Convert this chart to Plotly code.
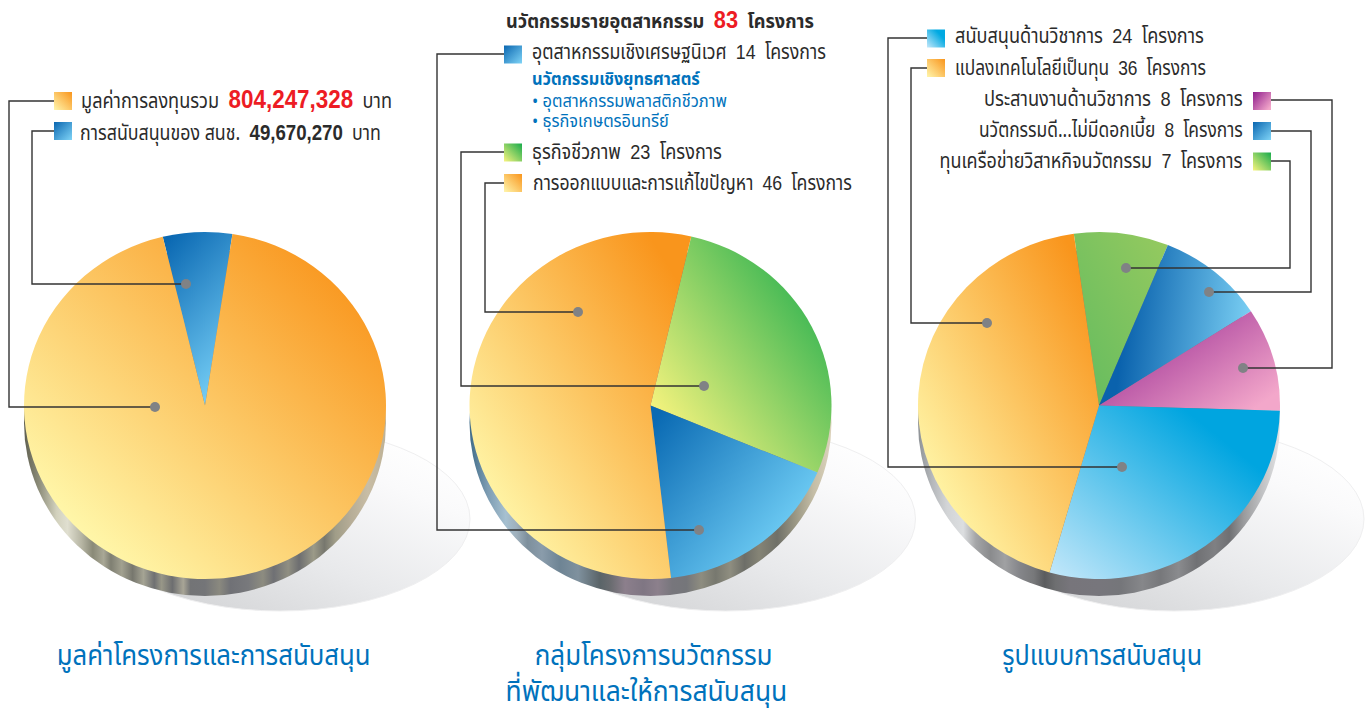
import json
import plotly.graph_objects as go

W, H = 1369, 709
INK = "#2b2b2b"
LINE = "#333333"
BLUE = "#0072bc"
RED = "#ed1c24"
THAI = "Noto Sans Thai, Noto Sans Thai Looped, Loma, Garuda, Noto Sans, Liberation Sans, sans-serif"
NUM = "Liberation Sans, Arial, sans-serif"
SP = "\u00a0"

# ----- data -----
funding_labels = ["การสนับสนุนของ สนช.", "ส่วนที่เหลือของมูลค่าการลงทุน"]
funding_values = [49670270, 754577058]
group_labels = ["ธุรกิจชีวภาพ", "อุตสาหกรรมเชิงเศรษฐนิเวศ", "การออกแบบและการแก้ไขปัญหา"]
group_values = [23, 14, 46]
support_labels = ["ทุนเครือข่ายวิสาหกิจนวัตกรรม", "นวัตกรรมดี...ไม่มีดอกเบี้ย", "ประสานงานด้านวิชาการ",
                  "สนับสนุนด้านวิชาการ", "แปลงเทคโนโลยีเป็นทุน"]
support_values = [7, 8, 8, 24, 36]

# gradient definitions: start colour, end colour, x1, y1, x2, y2
GRADS = {
    "orange": ("#fff6a8", "#f9951c", 0.15, 0.85, 0.9, 0.1),
    "blue":   ("#0a6ab3", "#74d2f8", 0.05, 0.05, 0.9, 0.75),
    "blue1":  ("#0a68b2", "#74cdf5", 0.15, 0.0, 0.6, 1),
    "green":  ("#f8f47e", "#18ab4b", 0.1, 0.85, 0.95, 0.05),
    "cyan":   ("#c5e8fa", "#00a5e0", 0, 1, 0.8, 0.25),
    "purple": ("#8e1c8c", "#f3a7ca", 0, 0, 1, 0.8),
    "blue2":  ("#0a62ad", "#7ed3f6", 0.15, 0.6, 1, 0.7),
    "green2": ("#62bb5f", "#96ca5f", 0, 1, 1, 0),
    "sw_orange": ("#fff6ad", "#f9951c", 0, 1, 1, 0),
    "sw_blue": ("#0a66b0", "#7fd4f7", 0, 0, 1, 1),
    "sw_green": ("#f8f47e", "#18ab4b", 0, 1, 1, 0),
    "sw_cyan": ("#c5e8fa", "#00a9e2", 0, 1, 0.75, 0.3),
}
PIES = [
    dict(cx=205, values=funding_values, labels=funding_labels, rotation=-13.5, grads=["blue1", "orange"]),
    dict(cx=650.5, values=group_values, labels=group_labels, rotation=13, grads=["green", "blue", "orange"]),
    dict(cx=1099, values=support_values, labels=support_labels, rotation=-8,
         grads=["green2", "blue2", "purple", "cyan", "orange"]),
]
RX, RY, CY, DEPTH = 181, 173.5, 405.5, 17

# legends: swatch x0, swatch y centre, gradient, elbow path ending at the dot
LEGENDS = [
    (54, 101, "sw_orange", [(54, 101), (9, 101), (9, 407), (155, 407)]),
    (54, 131, "sw_blue", [(54, 131), (32, 131), (32, 284), (186, 284)]),
    (504, 54.5, "sw_blue", [(504, 54), (437, 54), (437, 530), (699, 530)]),
    (504, 152.5, "sw_green", [(504, 152), (461, 152), (461, 386), (704, 386)]),
    (504, 183, "sw_orange", [(504, 183), (485, 183), (485, 312), (578, 312)]),
    (927, 38.5, "sw_cyan", [(927, 38), (888, 38), (888, 467), (1122, 467)]),
    (927, 68, "sw_orange", [(927, 68), (911, 68), (911, 323), (987, 323)]),
    (1253, 101, "purple", [(1271, 100), (1332, 100), (1332, 368), (1243, 368)]),
    (1253, 131, "sw_blue", [(1271, 131), (1311, 131), (1311, 292), (1209, 292)]),
    (1253, 161.5, "sw_green", [(1271, 161), (1290, 161), (1290, 268), (1126, 268)]),
]


def num(s, size=21, c=INK, b=False):
    return f'<span style="font-family:{NUM};font-size:{size}px;color:{c}">' + (f"<b>{s}</b>" if b else s) + "</span>"


# x of anchor, y, anchor, text, size, colour, width in the picture
TEXTS = [
    (79, 100, "left", f"มูลค่าการลงทุนรวม{SP}{SP}" + num("804,247,328", 26, RED, True) + f"{SP}{SP}บาท", 21, INK, 311),
    (78, 133, "left", f"การสนับสนุนของ{SP}สนช.{SP}{SP}" + num("49,670,270", 22, INK, True) + f"{SP}{SP}บาท", 21, INK, 301),
    (504, 21, "left", "<b>นวัตกรรมรายอุตสาหกรรม</b>" + f"{SP}{SP}" + num("83", 24, RED, True) + f"{SP}{SP}<b>โครงการ</b>", 20, INK, 308),
    (530, 52, "left", f"อุตสาหกรรมเชิงเศรษฐนิเวศ{SP}{SP}" + num("14") + f"{SP}{SP}โครงการ", 21, INK, 294),
    (530, 79, "left", "<b>นวัตกรรมเชิงยุทธศาสตร์</b>", 18, BLUE, 168),
    (530, 101, "left", f"•{SP}อุตสาหกรรมพลาสติกชีวภาพ", 18, BLUE, 195),
    (530, 121, "left", f"•{SP}ธุรกิจเกษตรอินทรีย์", 18, BLUE, 137),
    (530, 152, "left", f"ธุรกิจชีวภาพ{SP}{SP}" + num("23") + f"{SP}{SP}โครงการ", 21, INK, 190),
    (531, 183, "left", f"การออกแบบและการแก้ไขปัญหา{SP}{SP}" + num("46") + f"{SP}{SP}โครงการ", 21, INK, 319),
    (953, 36, "left", f"สนับสนุนด้านวิชาการ{SP}{SP}" + num("24") + f"{SP}{SP}โครงการ", 21, INK, 249),
    (953, 68, "left", f"แปลงเทคโนโลยีเป็นทุน{SP}{SP}" + num("36") + f"{SP}{SP}โครงการ", 21, INK, 251),
    (1245, 99, "right", f"ประสานงานด้านวิชาการ{SP}{SP}" + num("8") + f"{SP}{SP}โครงการ", 21, INK, 259),
    (1245, 130, "right", f"นวัตกรรมดี...ไม่มีดอกเบี้ย{SP}{SP}" + num("8") + f"{SP}{SP}โครงการ", 21, INK, 264),
    (1244, 161, "right", f"ทุนเครือข่ายวิสาหกิจนวัตกรรม{SP}{SP}" + num("7") + f"{SP}{SP}โครงการ", 21, INK, 303),
    (213, 656, "center", "มูลค่าโครงการและการสนับสนุน", 29, BLUE, 314),
    (653, 656, "center", "กลุ่มโครงการนวัตกรรม", 29, BLUE, 238),
    (646, 692, "center", "ที่พัฒนาและให้การสนับสนุน", 29, BLUE, 282),
    (1102, 656, "center", "รูปแบบการสนับสนุน", 29, BLUE, 200),
]

fig = go.Figure()
for p in PIES:
    fig.add_trace(go.Pie(
        values=p["values"], labels=p["labels"], sort=False, direction="clockwise",
        rotation=p["rotation"], textinfo="none", hoverinfo="skip", showlegend=False,
        marker=dict(colors=["#f9b25a"] * len(p["values"]), line=dict(width=0)),
        domain=dict(x=[(p["cx"] - RX) / W, (p["cx"] + RX) / W],
                    y=[1 - (CY + RX) / H, 1 - (CY - RX) / H]),
    ))

shapes, grad_map = [], {}
for i, p in enumerate(PIES):  # shadow then side wall, both under the pie
    dx = p["cx"] - 205
    grad_map[len(shapes)] = "shadow"
    shapes.append(dict(type="circle", layer="below", x0=90 + dx, x1=470 + dx, y0=427, y1=611,
                       fillcolor="#e4e5e7", line=dict(color="#efeff0", width=1)))
    grad_map[len(shapes)] = f"side{i}"
    shapes.append(dict(type="circle", layer="below", x0=p["cx"] - RX, x1=p["cx"] + RX,
                       y0=CY - RY + DEPTH, y1=CY + RY + DEPTH, fillcolor="#8a8a86", line=dict(width=0)))

for x0, yc, g, pts in LEGENDS:
    d = "M" + " L".join(f"{x},{y}" for x, y in pts)
    shapes.append(dict(type="path", layer="above", path=d, line=dict(color=LINE, width=1.4)))
    x, y = pts[-1]
    shapes.append(dict(type="circle", layer="above", x0=x - 5, x1=x + 5, y0=y - 5, y1=y + 5,
                       fillcolor="#808285", line=dict(width=0)))
    grad_map[len(shapes)] = g
    shapes.append(dict(type="rect", layer="above", x0=x0, x1=x0 + 18, y0=yc - 9, y1=yc + 9,
                       fillcolor="#f9b25a", line=dict(width=0)))

annotations = [dict(x=x, y=y, xref="x", yref="y", text=t, showarrow=False, xanchor=a, yanchor="middle",
                    font=dict(family=THAI, size=s, color=c)) for x, y, a, t, s, c, w in TEXTS]
text_widths = [(t[2], t[6]) for t in TEXTS]

fig.update_layout(
    width=W, height=H, margin=dict(l=0, r=0, t=0, b=0), paper_bgcolor="white", plot_bgcolor="white",
    xaxis=dict(range=[0, W], visible=False, fixedrange=True),
    yaxis=dict(range=[H, 0], visible=False, fixedrange=True),
    shapes=shapes, annotations=annotations,
)

SIDES = {
    "side0": [(0, "#5f5f50"), (.04, "#8b8b78"), (.09, "#d2d1bd"), (.12, "#e0dfd0"), (.16, "#b5b4a2"), (.19, "#8a8a78"),
              (.22, "#a9a896"), (.24, "#7f7f72"), (.27, "#a2a190"), (.3, "#77776e"), (.33, "#a5a494"), (.36, "#6f7072"),
              (.38, "#989788"), (.41, "#6d6e70"), (.44, "#a8a596"), (.46, "#737476"), (.5, "#747578"), (.54, "#8a897f"),
              (.57, "#707176"), (.62, "#78797c"), (.66, "#8d8c80"), (.69, "#6f7074"), (.73, "#908f82"), (.76, "#6d6e70"),
              (.8, "#9b9a88"), (.83, "#77776e"), (.86, "#a09d88"), (.9, "#b5ac96"), (.95, "#c8bda5"), (1, "#bdb196")],
    "side1": [(0, "#3f6b88"), (.05, "#7d9cb2"), (.1, "#a6c0d0"), (.13, "#9fb0bc"), (.16, "#7d8f9c"), (.2, "#8a9cab"),
              (.25, "#6e8494"), (.3, "#7f919e"), (.36, "#5a6468"), (.39, "#6a6c70"), (.43, "#8c7f8c"), (.48, "#7f7683"),
              (.52, "#8c808c"), (.56, "#77767c"), (.6, "#75767a"), (.64, "#8e8d80"), (.68, "#77786f"), (.72, "#8f8e80"),
              (.76, "#6d6e68"), (.8, "#858476"), (.85, "#6f7068"), (.9, "#9a9784"), (.95, "#c4bda6"), (1, "#dcd3bc")],
    "side2": [(0, "#8e9296"), (.04, "#b5b8bb"), (.08, "#d2d4d6"), (.125, "#dcdee0"), (.16, "#a4a5a7"), (.2, "#8a8b8d"),
              (.24, "#a0a1a3"), (.28, "#85868a"), (.32, "#77787a"), (.35, "#5b5c5e"), (.38, "#6e6f71"), (.42, "#77757b"),
              (.5, "#77767c"), (.56, "#75767a"), (.62, "#86878a"), (.67, "#77787b"), (.72, "#8a8b8e"), (.77, "#707174"),
              (.82, "#7f8083"), (.86, "#6f7073"), (.9, "#9a9b9d"), (.95, "#c0c1c3"), (1, "#e2e3e4")],
}
pie_fills = [p["grads"] for p in PIES]
config = json.dumps(dict(grads=GRADS, sides=SIDES, map=grad_map, pies=pie_fills, k=RY / RX, cy=CY, widths=text_widths))

post = """
document.body.style.margin = '0';
var C = %s;
var NS = 'http://www.w3.org/2000/svg';
var svg = document.createElementNS(NS, 'svg');
svg.setAttribute('width', 0); svg.setAttribute('height', 0);
svg.style.position = 'absolute';
var defs = document.createElementNS(NS, 'defs');
svg.appendChild(defs); document.body.appendChild(svg);
function grad(id, stops, x1, y1, x2, y2) {
  var g = document.createElementNS(NS, 'linearGradient');
  g.setAttribute('id', id);
  g.setAttribute('x1', x1); g.setAttribute('y1', y1); g.setAttribute('x2', x2); g.setAttribute('y2', y2);
  stops.forEach(function (s) {
    var t = document.createElementNS(NS, 'stop');
    t.setAttribute('offset', s[0]); t.setAttribute('stop-color', s[1]);
    g.appendChild(t);
  });
  defs.appendChild(g);
}
Object.keys(C.grads).forEach(function (k) {
  var v = C.grads[k];
  grad('g-' + k, [[0, v[0]], [1, v[1]]], v[2], v[3], v[4], v[5]);
});
Object.keys(C.sides).forEach(function (k) { grad('g-' + k, C.sides[k], 0, 0, 1, 0); });
grad('g-shadow', [[0, '#d2d3d5'], [0.4, '#e8e9eb'], [0.8, '#fafafb'], [1, '#ffffff']], 0.2, 1, 0.95, 0.15);
Object.keys(C.map).forEach(function (i) {
  document.querySelectorAll('.shapelayer path[data-index="' + i + '"]').forEach(function (el) {
    el.style.fill = 'url(#g-' + C.map[i] + ')';
  });
});
document.querySelectorAll('.pielayer .trace').forEach(function (tr, i) {
  tr.querySelectorAll('path.surface').forEach(function (el, j) {
    el.style.fill = 'url(#g-' + C.pies[i][j] + ')';
    el.setAttribute('transform', 'translate(0,' + (C.cy * (1 - C.k)) + ') scale(1,' + C.k + ')');
  });
});
document.querySelectorAll('.annotation-text-g text').forEach(function (el, i) {
  var b = el.getBBox();
  var s = C.widths[i][1] / b.width;
  var a = C.widths[i][0];
  var ax = a === 'left' ? b.x : (a === 'right' ? b.x + b.width : b.x + b.width / 2);
  var old = el.getAttribute('transform') || '';
  el.setAttribute('transform', old + ' translate(' + ax + ',0) scale(' + s + ',1) translate(' + (-ax) + ',0)');
});
""" % config

fig.write_html("out.html", post_script=post, config=dict(displayModeBar=False))
